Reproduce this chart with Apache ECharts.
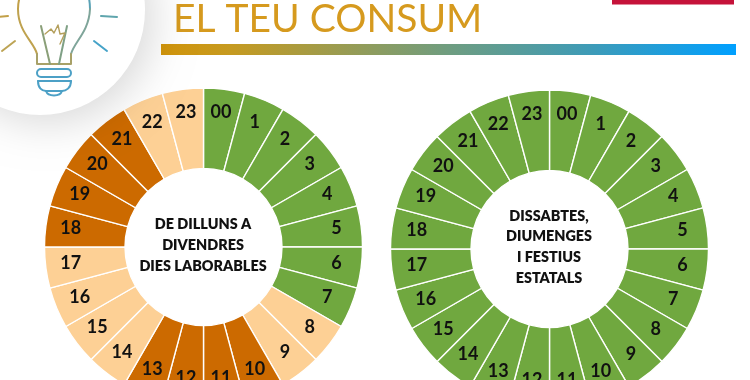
<!DOCTYPE html>
<html><head><meta charset="utf-8">
<style>html,body{margin:0;padding:0;background:#fff;overflow:hidden}#c{width:750px;height:380px}</style>
<script src="https://cdn.jsdelivr.net/npm/echarts@6/dist/echarts.min.js"></script>
</head><body><div id="c"></div>
<script>
const hourLabels = ['00','1','2','3','4','5','6','7','8','9','10','11','12','13','14','15','16','17','18','19','20','21','22','23'];
const hourLength = [1,1,1,1,1,1,1,1,1,1,1,1,1,1,1,1,1,1,1,1,1,1,1,1];
const weekdayPeriods = ['v','v','v','v','v','v','v','v','l','l','p','p','p','p','l','l','l','l','p','p','p','p','l','l'];
const weekendPeriods = ['v','v','v','v','v','v','v','v','v','v','v','v','v','v','v','v','v','v','v','v','v','v','v','v'];
const periodColors = {v:'#70a83f', l:'#fdd095', p:'#cc6a00'};
const titleText = 'EL TEU CONSUM';
const weekdayCaption = ['DE DILLUNS A','DIVENDRES','DIES LABORABLES'];
const weekendCaption = ['DISSABTES,','DIUMENGES','I FESTIUS','ESTATALS'];

const LABEL_FONT = 'Lato, "Open Sans", sans-serif';
function rings(center, periods){
  return [
    {type:'pie', center, radius:[78.5,159], startAngle:90, silent:true, animation:false,
     label:{show:false}, labelLine:{show:false},
     data:hourLabels.map((h,i)=>({name:h, value:hourLength[i],
       itemStyle:{color:periodColors[periods[i]], borderColor:'#fff', borderWidth:1.4}}))},
    {type:'pie', center:[center[0],center[1]-1.5], radius:[104,158], startAngle:90, silent:true, animation:false, z:5,
     labelLine:{show:false},
     label:{show:true, position:'inside', formatter:'{b}', color:'#111', fontFamily:LABEL_FONT, fontWeight:700, fontSize:18},
     itemStyle:{color:'rgba(0,0,0,0)', borderWidth:0},
     emphasis:{disabled:true},
     data:hourLabels.map((h,i)=>({name:h, value:hourLength[i]}))}
  ];
}
function caption(lines, cx, firstY, step){
  return lines.map((t,i)=>({type:'text', z:20, silent:true,
    style:{text:t, x:cx, y:firstY+i*step, align:'center', verticalAlign:'middle',
      fill:'#111', fontFamily:LABEL_FONT, fontWeight:800, fontSize:14.4}}));
}
const lineStyle = (c,w)=>({fill:null, stroke:c, lineWidth:w||2, lineCap:'round', lineJoin:'round'});
function poly(points,c,w){ return {type:'polyline', z:12, silent:true, shape:{points}, style:lineStyle(c,w)}; }
function curve(x1,y1,cpx1,cpy1,cpx2,cpy2,x2,y2,c,w){
  return {type:'bezierCurve', z:12, silent:true, shape:{x1,y1,cpx1,cpy1,cpx2,cpy2,x2,y2}, style:lineStyle(c,w)};
}
const decoration = [
  {type:'circle', z:10, silent:true, shape:{cx:40,cy:10,r:105},
   style:{fill:'#fff', shadowColor:'rgba(0,0,0,0.15)', shadowBlur:42, shadowOffsetX:8, shadowOffsetY:8}},
  curve(18,9,18,-5,24,-12,30,-16,'#c2a048'),
  curve(90,9,90,-5,86,-12,80,-16,'#5aa2b6'),
  curve(18,9,18,32,34,42,37,54,'#bfa24f'),
  curve(90,9,89,32,74,42,71,54,'#7fa59a'),
  poly([[37,54],[37,64],[71,64],[71,54]],'#a8a168'),
  poly([[41,26],[50,64]],'#8a9f78'),
  poly([[67,26],[59,64]],'#7fa085'),
  poly([[45,34],[51,29],[54,33],[58,25],[60,34],[65,33],[60,44]],'#b49f5c',1.4),
  {type:'rect', z:12, silent:true, shape:{x:37,y:69,width:34,height:8,r:4}, style:lineStyle('#4ca0c6')},
  poly([[38,81],[71,81]],'#4ca0c6'),
  curve(38,81,38,88,42,91,46,91,'#4ca0c6'),
  curve(71,81,71,88,66,91,62,91,'#4ca0c6'),
  poly([[46,91],[62,91]],'#4ca0c6'),
  curve(46,91,48,97,60,97,62,91,'#4ca0c6'),
  poly([[-2,17],[8,16]],'#c2a048'),
  poly([[2,51],[15,41]],'#bda455'),
  poly([[101,16],[117,17]],'#5fa5ad'),
  poly([[94,41],[107,51]],'#46a3c8'),
  {type:'rect', z:3, silent:true, shape:{x:161,y:44,width:575,height:11},
   style:{fill:{type:'linear',x:0,y:0,x2:1,y2:0,colorStops:[
     {offset:0,color:'#d2950a'},{offset:0.12,color:'#c69a20'},{offset:0.5,color:'#6f9d80'},
     {offset:0.75,color:'#3d9bb8'},{offset:1,color:'#00a0ff'}]}}},
  {type:'rect', z:3, silent:true, shape:{x:612,y:0,width:122,height:4.5}, style:{fill:'#c5123a'}},
  {type:'text', z:3, silent:true, style:{text:titleText, x:173, y:19, verticalAlign:'middle',
    fill:'#d69a1e', fontFamily:'Lato, sans-serif', fontWeight:400, fontSize:39}},
  ...caption(weekdayCaption, 203, 224, 21),
  ...caption(weekendCaption, 549, 216, 20.7)
];
const chart = echarts.init(document.getElementById('c'), null, {renderer:'canvas'});
chart.setOption({
  animation:false,
  backgroundColor:'#fff',
  series:[...rings([203.5,247],weekdayPeriods), ...rings([549.5,249],weekendPeriods)],
  graphic:{elements:decoration}
});
</script></body></html>
